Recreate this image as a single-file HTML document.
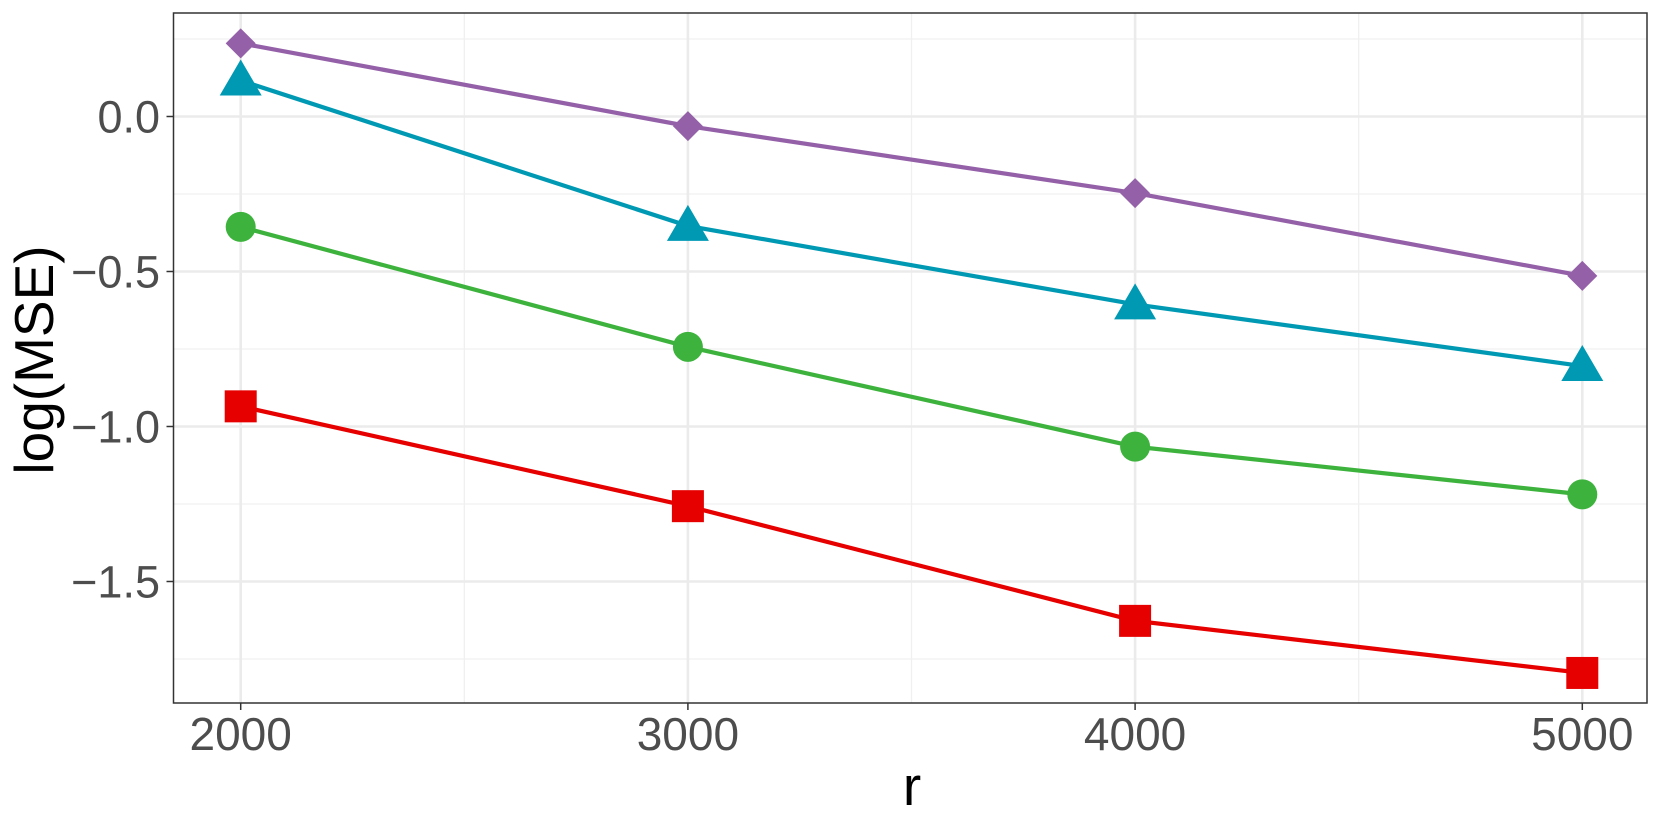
<!DOCTYPE html>
<html><head><meta charset="utf-8"><style>
body{margin:0;background:#fff;}
svg{display:block;font-family:"Liberation Sans",sans-serif;}
</style></head><body>
<svg id="chart" width="1661" height="830">
<g id="grid"></g>
<g id="series"></g>
<rect x="173.5" y="13" width="1473.5" height="690" fill="none" stroke="#333" stroke-width="1.5"/>
<g id="axes"></g>
<text x="912" y="805" font-size="55" text-anchor="middle" fill="#000">r</text>
<text transform="translate(53,360) rotate(-90)" font-size="55" text-anchor="middle" fill="#000">log(MSE)</text>
</svg>
<script>
const xCats=[2000,3000,4000,5000];
const xTicks=[2000,3000,4000,5000];
const yTicks=[0,-0.5,-1,-1.5];
const yTickLabels=["0.0","\u22120.5","\u22121.0","\u22121.5"];
const purpleVals=[0.236,-0.031,-0.247,-0.514];
const blueVals=[0.116,-0.353,-0.606,-0.805];
const greenVals=[-0.356,-0.743,-1.065,-1.219];
const redVals=[-0.935,-1.257,-1.627,-1.795];

const NS="http://www.w3.org/2000/svg";
const L=173.5,R=1647,T=13,B=703;
const xs=v=>240.7+(v-2000)*0.4472;
const ys=v=>116.5-v*310;
function mk(tag,attrs,parent){const e=document.createElementNS(NS,tag);for(const k in attrs)e.setAttribute(k,attrs[k]);parent.appendChild(e);return e;}
const grid=document.getElementById('grid'),axes=document.getElementById('axes'),ser=document.getElementById('series');
mk('rect',{x:L,y:T,width:R-L,height:B-T,fill:'#fff'},grid);
for(let v=1500;v<=5500;v+=1000){const x=xs(v);if(x>L&&x<R){const l=mk('line',{x1:x,x2:x,y1:T,y2:B,stroke:'#f0f0f0','stroke-width':1.3},grid);}}
for(let v=0.25;v>=-2;v-=0.5){const y=ys(v);if(y>T&&y<B){const l=mk('line',{x1:L,x2:R,y1:y,y2:y,stroke:'#f0f0f0','stroke-width':1.3},grid);}}
xTicks.forEach(v=>{const x=xs(v);
const l=mk('line',{x1:x,x2:x,y1:T,y2:B,stroke:'#ebebeb','stroke-width':2.6},grid);

const t=mk('line',{x1:x,x2:x,y1:B,y2:B+7,stroke:'#333','stroke-width':1.5},axes);

const tx=mk('text',{x:x,y:750,'font-size':46,'text-anchor':'middle',fill:'#4d4d4d'},axes);tx.textContent=v;
});
yTicks.forEach((v,i)=>{const y=ys(v);
const l=mk('line',{x1:L,x2:R,y1:y,y2:y,stroke:'#ebebeb','stroke-width':2.6},grid);

const t=mk('line',{x1:L-7,x2:L,y1:y,y2:y,stroke:'#333','stroke-width':1.5},axes);

const tx=mk('text',{x:160,y:y+16,'font-size':45,'text-anchor':'end',fill:'#4d4d4d'},axes);tx.textContent=yTickLabels[i];
});
function series(vals,color,shape,name){
const g=mk('g',{},ser);

const pl=mk('polyline',{points:vals.map((v,i)=>xs(xCats[i])+','+ys(v)).join(' '),fill:'none',stroke:color,'stroke-width':4.2},g);

vals.forEach((v,i)=>{const x=xs(xCats[i]),y=ys(v);let m;
if(shape==='circle')m=mk('circle',{cx:x,cy:y,r:15,fill:color},g);
else if(shape==='square')m=mk('rect',{x:x-16,y:y-16,width:32,height:32,fill:color},g);
else if(shape==='triangle')m=mk('polygon',{points:`${x},${y-21} ${x-21},${y+15} ${x+21},${y+15}`,fill:color},g);
else m=mk('polygon',{points:`${x},${y-15} ${x+15},${y} ${x},${y+15} ${x-15},${y}`,fill:color},g);
});}
series(redVals,'#e60000','square','red');
series(greenVals,'#3db33d','circle','green');
series(blueVals,'#0099b4','triangle','blue');
series(purpleVals,'#9460a8','diamond','purple');
</script>
</body></html>
